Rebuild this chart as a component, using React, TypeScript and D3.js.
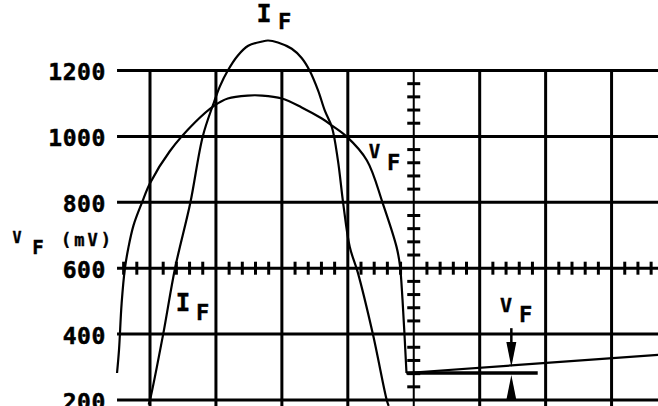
import * as d3 from 'd3';
import React, { useEffect, useRef } from 'react';

// oscilloscope trace, x in screen divisions, y in mV
const yTicks = [1200, 1000, 800, 600, 400, 200];
const xDivisions = [0, 1, 2, 3, 4, 5, 6, 7, 8];

const ifTrace: [number, number][] = [
    [-0.02, 186], [0.0, 200], [0.2, 400], [0.38, 600], [0.61, 797],
    [0.8, 1000], [0.96, 1098], [1.06, 1152], [1.18, 1200],
    [1.33, 1245], [1.49, 1275], [1.7, 1288], [1.79, 1291], [1.94, 1285],
    [2.15, 1266], [2.3, 1238], [2.42, 1200], [2.55, 1139], [2.65, 1079],
    [2.76, 1027], [2.85, 927], [2.93, 797], [3.03, 664], [3.15, 588],
    [3.38, 400], [3.59, 200], [3.62, 182]
];

const vfTrace: [number, number][] = [
    [-0.5, 282], [-0.47, 352], [-0.43, 494], [-0.38, 600], [-0.33, 660],
    [-0.25, 730], [-0.12, 800], [0.0, 858], [0.3, 955], [0.68, 1042],
    [0.98, 1094], [1.18, 1115], [1.48, 1124], [1.7, 1124], [2.0, 1115],
    [2.3, 1088], [2.6, 1055], [2.76, 1033], [2.98, 1000], [3.29, 927],
    [3.53, 797], [3.74, 664], [3.79, 609], [3.83, 503], [3.89, 282]
];

const vfTail: [number, number][] = [[3.89, 282], [8, 341]];

const vfReference: [number, number][] = [[3.89, 282], [5.88, 282]];

// V_F marker arrows: position, stem top, upper tip, lower tip
const vfMarkerDiv = 5.48;
const vfMarkerTop = [418, 376, 300];
const vfMarkerBottom = [200, 276];

const labels = [
    { parts: [['I', 264, 22, 25], ['F', 284.5, 29, 22]] },
    { parts: [['I', 183, 311, 24], ['F', 202.5, 320, 22]] },
    { parts: [['V', 374.5, 158, 19], ['F', 393.5, 170, 22]] },
    { parts: [['V', 506, 312, 20], ['F', 525.5, 322, 22]] }
];

const FONT = '"DejaVu Sans Mono", monospace';

export default function App() {
    const target = useRef<SVGSVGElement>(null);

    useEffect(() => {
        const svg = d3.select(target.current);
        svg.selectAll('*').remove();

        const x = d3.scaleLinear().domain([0, 8]).range([150, 677.5]);
        const y = d3.scaleLinear().domain([200, 1200]).range([400, 70.5]);

        const grid = svg.append('g').style('stroke', '#000').style('fill', 'none');

        // horizontal grid lines
        grid.selectAll('line.h')
            .data(yTicks)
            .enter()
            .append('line')
            .attr('x1', x(-0.5))
            .attr('x2', x(8.2))
            .attr('y1', d => y(d))
            .attr('y2', d => y(d))
            .style('stroke-width', 3);

        // vertical grid lines
        grid.selectAll('line.v')
            .data(xDivisions)
            .enter()
            .append('line')
            .attr('x1', d => x(d))
            .attr('x2', d => x(d))
            .attr('y1', y(1200))
            .attr('y2', y(170))
            .style('stroke-width', d => d === 4 ? 2 : 3);

        // minor ticks on the centre axes
        const vMinor = d3.range(200, 1200, 40).filter(v => v % 200 !== 0);
        grid.selectAll('line.vt')
            .data(vMinor)
            .enter()
            .append('line')
            .attr('x1', x(4) - 6.5)
            .attr('x2', x(4) + 6.5)
            .attr('y1', d => y(d))
            .attr('y2', d => y(d))
            .style('stroke-width', 3);

        const hMinor = d3.range(-0.4, 8, 0.2)
            .map(v => Math.round(v * 10) / 10)
            .filter(v => Math.abs(v - Math.round(v)) > 0.01);
        grid.selectAll('line.ht')
            .data(hMinor)
            .enter()
            .append('line')
            .attr('x1', d => x(d))
            .attr('x2', d => x(d))
            .attr('y1', y(600) - 6.5)
            .attr('y2', y(600) + 6.5)
            .style('stroke-width', 3);

        // y tick labels
        svg.append('g')
            .selectAll('text')
            .data(yTicks)
            .enter()
            .append('text')
            .attr('x', 106)
            .attr('y', d => y(d) + 9.5)
            .attr('text-anchor', 'end')
            .style('font-family', FONT)
            .style('font-weight', 'bold')
            .style('font-size', '23px')
            .style('letter-spacing', '0.6px')
            .style('stroke', '#000')
            .style('stroke-width', 0.5)
            .text(d => d);

        // traces
        const smooth = d3.line<[number, number]>()
            .x(d => x(d[0]))
            .y(d => y(d[1]))
            .curve(d3.curveCatmullRom.alpha(0.5));
        const straight = d3.line<[number, number]>()
            .x(d => x(d[0]))
            .y(d => y(d[1]));

        const traces = svg.append('g')
            .style('stroke', '#000')
            .style('fill', 'none')
            .style('stroke-linejoin', 'round');

        traces.append('path').attr('d', smooth(ifTrace)).style('stroke-width', 2.2);
        traces.append('path').attr('d', smooth(vfTrace)).style('stroke-width', 2.2);
        traces.append('path').attr('d', straight(vfTail)).style('stroke-width', 2.2);
        traces.append('path').attr('d', straight(vfReference)).style('stroke-width', 3.5);

        // V_F marker
        const mx = x(vfMarkerDiv);
        svg.append('line')
            .attr('x1', mx).attr('x2', mx)
            .attr('y1', y(vfMarkerTop[0])).attr('y2', y(vfMarkerTop[1]))
            .style('stroke', '#000')
            .style('stroke-width', 2.5);
        svg.append('path')
            .attr('d', `M${mx - 5},${y(vfMarkerTop[1])}L${mx + 5},${y(vfMarkerTop[1])}L${mx},${y(vfMarkerTop[2])}Z`)
            .style('fill', '#000');
        svg.append('path')
            .attr('d', `M${mx - 5},${y(vfMarkerBottom[0])}L${mx + 5},${y(vfMarkerBottom[0])}L${mx},${y(vfMarkerBottom[1])}Z`)
            .style('fill', '#000');

        // curve labels
        labels.forEach(l => {
            l.parts.forEach(([t, lx, ly, fs]) => {
                svg.append('text')
                    .attr('x', lx as number)
                    .attr('y', ly as number)
                    .attr('text-anchor', 'middle')
                    .style('font-family', FONT)
                    .style('font-weight', 'bold')
                    .style('font-size', `${fs}px`)
                    .style('stroke', '#000')
                    .style('stroke-width', 0.4)
                    .text(t as string);
            });
        });

        // axis label
        const axis = svg.append('g')
            .style('font-family', FONT)
            .style('font-weight', 'bold')
            .style('stroke', '#000')
            .style('stroke-width', 0.4);
        axis.append('text').attr('x', 17).attr('y', 243).attr('text-anchor', 'middle')
            .style('font-size', '15px').text('V');
        axis.append('text').attr('x', 38).attr('y', 254).attr('text-anchor', 'middle')
            .style('font-size', '19px').text('F');
        axis.append('text').attr('x', 61).attr('y', 246)
            .style('font-size', '17px').style('letter-spacing', '3px').text('(mV)');
    }, []);

    return (
        <svg
            ref={target}
            width={658}
            height={406}
            style={{ position: 'absolute', left: 0, top: 0, background: '#fff' }}
        />
    );
}
